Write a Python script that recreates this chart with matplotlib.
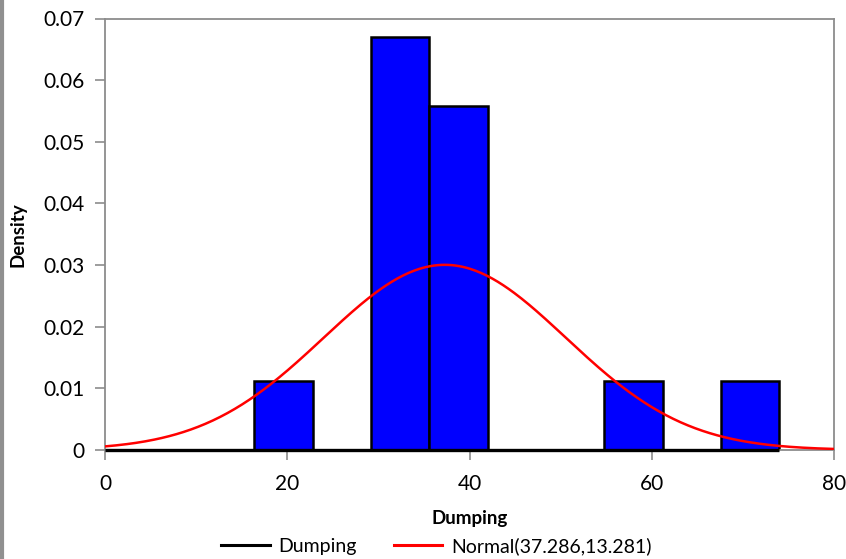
"""
Histogram of Dumping with fitted normal curve (density scale).
"""
import numpy as np
import matplotlib.pyplot as plt
from matplotlib.lines import Line2D

plt.rcParams['font.family'] = ['Lato', 'DejaVu Sans']

# histogram bins and densities
bin_edges = [16.4, 22.8, 29.2, 35.6, 42.0, 48.4, 54.8, 61.2, 67.6, 74.0]
densities = [0.01116, 0.0, 0.06696, 0.0558, 0.0, 0.0, 0.01116, 0.0, 0.01116]

# fitted normal parameters
mu = 37.286
sigma = 13.281

x_ticks = [0, 20, 40, 60, 80]
y_ticks = [0, 0.01, 0.02, 0.03, 0.04, 0.05, 0.06, 0.07]
y_tick_labels = ['0', '0.01', '0.02', '0.03', '0.04', '0.05', '0.06', '0.07']

fig = plt.figure(figsize=(8.46, 5.59), dpi=100)
ax = fig.add_axes([105 / 846, 1 - 450 / 559, 729 / 846, 431.5 / 559])

# baseline of the histogram series
ax.plot([0, bin_edges[-1]], [0, 0], color='black', lw=2.4, zorder=3,
        solid_capstyle='butt', clip_on=False)

# bars (only non-empty bins)
lefts = np.array(bin_edges[:-1])
widths = np.diff(bin_edges)
dens = np.array(densities)
mask = dens > 0
ax.bar(lefts[mask], dens[mask], width=widths[mask], align='edge',
       color='#0000ff', edgecolor='black', linewidth=1.8, zorder=2)

# normal curve
xs = np.linspace(0, 80, 400)
pdf = np.exp(-0.5 * ((xs - mu) / sigma) ** 2) / (sigma * np.sqrt(2 * np.pi))
ax.plot(xs, pdf, color='red', lw=1.8, zorder=4)

ax.set_xlim(0, 80)
ax.set_ylim(0, 0.07)
ax.set_xticks(x_ticks)
ax.set_yticks(y_ticks)
ax.set_yticklabels(y_tick_labels)
for s in ax.spines.values():
    s.set_color('#8c8c8c')
    s.set_linewidth(1.3)
ax.tick_params(axis='both', colors='#8c8c8c', labelcolor='black', labelsize=15,
               length=7, width=1.2, direction='out')
ax.tick_params(axis='x', pad=10)
ax.tick_params(axis='y', pad=8)

ax.set_xlabel('Dumping', fontsize=13.5, fontweight='bold', labelpad=12)
ax.set_ylabel('Density', fontsize=13.5, fontweight='bold', labelpad=12)

handles = [Line2D([], [], color='black', lw=2.2),
           Line2D([], [], color='red', lw=2.2)]
fig.legend(handles, ['Dumping', 'Normal(37.286,13.281)'], loc='lower left',
           bbox_to_anchor=(217 / 846, 0.0), borderpad=0.2, borderaxespad=0,
           ncol=2, frameon=False, fontsize=14,
           handlelength=2.5, handletextpad=0.45, columnspacing=1.9)

# gray frame edge at the left of the picture
fig.add_artist(Line2D([0.002, 0.002], [0, 1], color='#909090', lw=3,
                      transform=fig.transFigure))

fig.savefig('out.png', dpi=100)
